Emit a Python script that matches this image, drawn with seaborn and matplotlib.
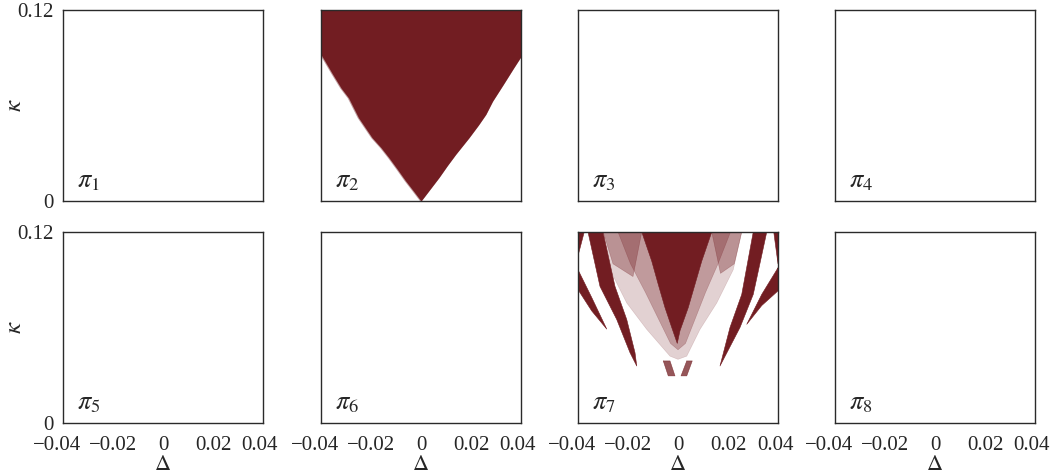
import matplotlib
matplotlib.use("Agg")
import matplotlib.pyplot as plt
from matplotlib.transforms import ScaledTranslation
import seaborn as sns
import pandas as pd

# ---------------- data ----------------
panel_labels = [r"$\pi_1$", r"$\pi_2$", r"$\pi_3$", r"$\pi_4$",
                r"$\pi_5$", r"$\pi_6$", r"$\pi_7$", r"$\pi_8$"]
x_ticks = [-0.04, -0.02, 0, 0.02, 0.04]
x_tick_labels = ["\u22120.04", "\u22120.02", "0", "0.02", "0.04"]
y_ticks = [0, 0.12]
y_tick_labels = ["0", "0.12"]

# pi_2 : lower boundary of the filled V region (filled up to kappa = 0.12)
pi2_delta = [-0.04, -0.0355, -0.032, -0.029, -0.025, -0.0196, -0.016, -0.0129,
             -0.0095, -0.0062, -0.003, 0.0, 0.0035, 0.0072, 0.0105, 0.0139,
             0.0192, 0.023, 0.0259, 0.0286, 0.033, 0.037, 0.04]
pi2_kappa = [0.092, 0.080, 0.071, 0.0648, 0.0523, 0.0398, 0.0335, 0.0273,
             0.020, 0.0127, 0.0062, 0.0, 0.0072, 0.0148, 0.0222, 0.0294,
             0.0398, 0.0478, 0.0544, 0.0627, 0.0735, 0.0835, 0.0908]

# pi_7 : regions (polygons in delta / kappa)
core_delta = [-0.0145, -0.0105, -0.0079, -0.0052, -0.0025, -0.0003,
              0.0008, 0.0041, 0.0068, 0.0095, 0.0135]
core_kappa = [0.12, 0.1017, 0.0871, 0.0725, 0.060, 0.050,
              0.058, 0.0725, 0.0871, 0.1017, 0.12]

speck_delta = [-0.0299, -0.0272, -0.0205, -0.0125, -0.0032, 0.0,
               0.0035, 0.0088, 0.0155, 0.0221, 0.0255]
speck_kappa = [0.12, 0.0963, 0.0754, 0.0588, 0.042, 0.040,
               0.042, 0.0588, 0.0754, 0.0963, 0.12]

dense_delta = [-0.024, -0.019, -0.013, -0.008, -0.003, 0.0,
               0.003, 0.007, 0.011, 0.016, 0.021]
dense_kappa = [0.12, 0.100, 0.082, 0.066, 0.050, 0.046,
               0.050, 0.066, 0.082, 0.100, 0.12]

top_delta = [-0.0299, -0.026, -0.018, -0.0145, 0.0135, 0.017, 0.0225, 0.0255]
top_kappa = [0.12, 0.100, 0.092, 0.12, 0.12, 0.094, 0.100, 0.12]

bandB_delta = [-0.036, -0.0312, -0.0245, -0.0192, -0.0165,
               -0.0172, -0.0205, -0.0252, -0.030]
bandB_kappa = [0.12, 0.0858, 0.065, 0.0442, 0.0358,
               0.0442, 0.065, 0.0858, 0.12]

bandC_delta = [0.0355, 0.0301, 0.0248, 0.0168, 0.0208, 0.0255, 0.0301]
bandC_kappa = [0.12, 0.0808, 0.060, 0.0358, 0.060, 0.0808, 0.12]

bandA_delta = [-0.04, -0.0345, -0.0285, -0.0345, -0.04]
bandA_kappa = [0.0963, 0.0788, 0.059, 0.0704, 0.0838]

bandD_delta = [0.04, 0.0335, 0.0275, 0.0335, 0.04]
bandD_kappa = [0.0975, 0.0808, 0.062, 0.0738, 0.083]

cornerL_delta = [-0.04, -0.0375, -0.04]
cornerL_kappa = [0.12, 0.12, 0.105]
cornerR_delta = [0.04, 0.0383, 0.04]
cornerR_kappa = [0.12, 0.12, 0.100]

blobL_delta = [-0.0059, -0.0032, -0.0012, -0.0039]
blobL_kappa = [0.039, 0.039, 0.0296, 0.0296]
blobR_delta = [0.0035, 0.0057, 0.0035, 0.0012]
blobR_kappa = [0.039, 0.039, 0.0296, 0.0296]

# ---------------- style ----------------
sns.set_theme(style="white")
plt.rcParams["font.family"] = ["Liberation Serif", "DejaVu Serif"]
plt.rcParams["mathtext.fontset"] = "stix"
plt.rcParams["axes.unicode_minus"] = True

RED = "#721d22"
FS = 15

fig = plt.figure(figsize=(10.57, 4.74), dpi=100)
W, H = 1057.0, 474.0
col_left = [63, 321, 578, 835]
row_top = [10, 232]
pw, ph = 200, 191

axes = []
for r in range(2):
    for c in range(4):
        ax = fig.add_axes([col_left[c] / W, (H - row_top[r] - ph) / H, pw / W, ph / H])
        axes.append(ax)


def region(ax, d, k, alpha=1.0):
    df = pd.DataFrame({"delta": list(d) + [d[0]], "kappa": list(k) + [k[0]]})
    ax.fill(df["delta"], df["kappa"], color=RED, alpha=alpha, lw=0)
    sns.lineplot(data=df, x="delta", y="kappa", sort=False, estimator=None,
                 color=RED, alpha=alpha, lw=0.4, ax=ax)


# pi_2
ax2 = axes[1]
df2 = pd.DataFrame({"delta": pi2_delta, "kappa": pi2_kappa})
ax2.fill_between(df2["delta"], df2["kappa"], 0.12, color=RED, lw=0)
sns.lineplot(data=df2, x="delta", y="kappa", color=RED, lw=1.2, alpha=0.45,
             estimator=None, ax=ax2)

# pi_7
ax7 = axes[6]
region(ax7, speck_delta, speck_kappa, alpha=0.2)
region(ax7, dense_delta, dense_kappa, alpha=0.3)
region(ax7, top_delta, top_kappa, alpha=0.35)
region(ax7, core_delta, core_kappa)
region(ax7, bandB_delta, bandB_kappa)
region(ax7, bandC_delta, bandC_kappa)
region(ax7, bandA_delta, bandA_kappa)
region(ax7, bandD_delta, bandD_kappa)
region(ax7, cornerL_delta, cornerL_kappa)
region(ax7, cornerR_delta, cornerR_kappa)
region(ax7, blobL_delta, blobL_kappa, alpha=0.75)
region(ax7, blobR_delta, blobR_kappa, alpha=0.75)

shift_left = ScaledTranslation(-6 / 100, 0, fig.dpi_scale_trans)
shift_right = ScaledTranslation(-3 / 100, 0, fig.dpi_scale_trans)
for i, ax in enumerate(axes):
    r, c = divmod(i, 4)
    ax.set_xlim(-0.04, 0.04)
    ax.set_ylim(0, 0.12)
    for s in ax.spines.values():
        s.set_color("#2a2a2a")
        s.set_linewidth(1.0)
    ax.tick_params(length=0, labelsize=FS)
    ax.tick_params(axis="x", pad=9)
    ax.tick_params(axis="y", pad=7)
    if r == 1:
        ax.set_xticks(x_ticks)
        ax.set_xticklabels(x_tick_labels)
        labs = ax.get_xticklabels()
        labs[0].set_transform(labs[0].get_transform() + shift_left)
        labs[-1].set_transform(labs[-1].get_transform() + shift_right)
        ax.set_xlabel(r"$\Delta$", fontsize=FS + 1, labelpad=1)
    else:
        ax.set_xticks([])
        ax.set_xlabel("")
    if c == 0:
        ax.set_yticks(y_ticks)
        ax.set_yticklabels(y_tick_labels)
        ax.set_ylabel(r"$\kappa$", fontsize=FS + 3, va="center")
        ax.yaxis.set_label_coords(-0.24, 0.5)
    else:
        ax.set_yticks([])
        ax.set_ylabel("")
    ax.text(0.07, 0.07, panel_labels[i], transform=ax.transAxes,
            fontsize=FS + 4, ha="left", va="baseline", zorder=5)

fig.savefig("out.png", dpi=100)
